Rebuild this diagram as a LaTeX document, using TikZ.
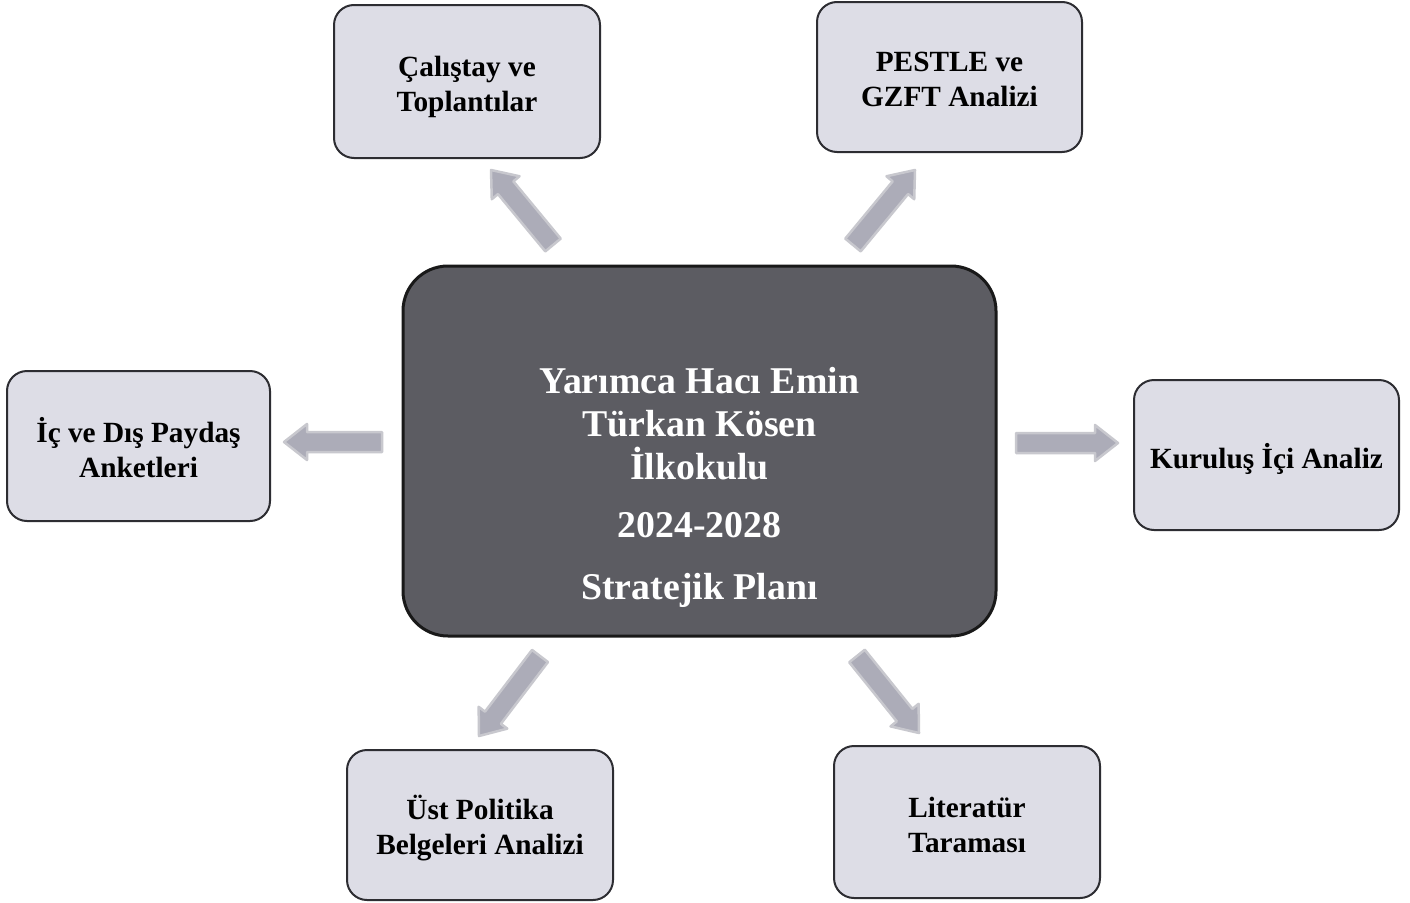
\documentclass[tikz,border=0pt]{standalone}
\usepackage{fontspec}
\setmainfont{Liberation Serif}
\usetikzlibrary{calc}
\definecolor{boxfill}{RGB}{221,221,230}
\definecolor{boxline}{RGB}{45,45,50}
\definecolor{mainfill}{RGB}{92,92,98}
\definecolor{arrfill}{RGB}{172,172,184}
\definecolor{arrline}{RGB}{200,200,206}
\tikzset{
  sidebox/.style={draw=boxline, line width=2pt, fill=boxfill, rounded corners=20pt,
    minimum width=#1, minimum height=150pt, inner sep=0pt},
  sidebox/.default=265pt,
  sidetext/.style={align=center, inner sep=0pt, text=black,
    font=\fontsize{29.3}{35}\selectfont\bfseries},
  mainbox/.style={draw=black!90, line width=3pt, fill=mainfill, rounded corners=45pt,
    minimum width=593pt, minimum height=370pt, inner sep=0pt},
  maintext/.style={align=center, text=white, inner sep=0pt,
    font=\fontsize{37.8}{43}\selectfont\bfseries},
  blockarrow/.style={fill=arrfill, draw=arrline, line width=2.5pt, line join=round},
}
\newcommand\blkarrow[2]{%
  \coordinate (bh) at ($(#2)!23pt!(#1)$);
  \filldraw[blockarrow] ($(#1)!10pt!90:(#2)$) -- ($(bh)!10pt!90:(#2)$) --
    ($(bh)!18pt!90:(#2)$) -- (#2) -- ($(bh)!18pt!-90:(#2)$) --
    ($(bh)!10pt!-90:(#2)$) -- ($(#1)!10pt!-90:(#2)$) -- cycle;
}
\begin{document}
\begin{tikzpicture}[x=1pt,y=-1pt]
\useasboundingbox[fill=white] (0,0) rectangle (1410,902);
% central box
\node[mainbox] (center) at (699.5,451) {};
\node[maintext] (ctext) at (699.5,487) {Yarımca Hacı Emin\\Türkan Kösen\\İlkokulu\\[15pt]2024-2028\\[19pt]Stratejik Planı};
% side boxes
\node[sidebox=266pt, minimum height=153pt] (calistay) at (467,81.5) {};
\node[sidetext] (calistayT) at (467,87) {Çalıştay ve\\Toplantılar};
\node[sidebox, minimum height=150pt] (pestle) at (949.5,77) {};
\node[sidetext] (pestleT) at (949.5,79) {PESTLE ve\\GZFT Analizi};
\node[sidebox=263pt] (icdis) at (138.5,446) {};
\node[sidetext] (icdisT) at (138.5,448) {İç ve Dış Paydaş\\Anketleri};
\node[sidebox] (kurulus) at (1266.5,455) {};
\node[sidetext] (kurulusT) at (1266.5,459) {Kuruluş İçi Analiz};
\node[sidebox=266pt] (ust) at (480,825) {};
\node[sidetext] (ustT) at (480,828) {Üst Politika\\Belgeleri Analizi};
\node[sidebox=266pt, minimum height=152pt] (literatur) at (967,822) {};
\node[sidetext] (literaturT) at (967,825) {Literatür\\Taraması};
% arrow end points
\coordinate (a1s) at (553,245); \coordinate (a1e) at (491,170);
\coordinate (a2s) at (853,245); \coordinate (a2e) at (915,170);
\coordinate (a3s) at (382,442); \coordinate (a3e) at (284,442);
\coordinate (a4s) at (1016,443); \coordinate (a4e) at (1118,443);
\coordinate (a5s) at (540,656); \coordinate (a5e) at (479,736);
\coordinate (a6s) at (857,656); \coordinate (a6e) at (919,733);
\blkarrow{a1s}{a1e}
\blkarrow{a2s}{a2e}
\blkarrow{a3s}{a3e}
\blkarrow{a4s}{a4e}
\blkarrow{a5s}{a5e}
\blkarrow{a6s}{a6e}
\end{tikzpicture}
\end{document}
